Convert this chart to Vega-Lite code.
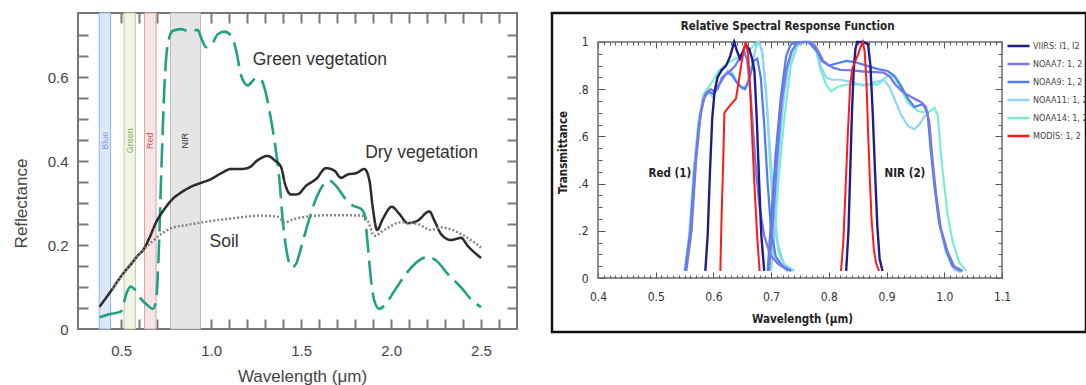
{
  "$schema": "https://vega.github.io/schema/vega-lite/v6.json",
  "background": "white",
  "padding": {"left": 11, "top": 11, "right": 0, "bottom": 0},
  "bounds": "flush",
  "spacing": 35,
  "config": {
    "axis": {"grid": false, "domain": false, "ticks": false, "labelOverlap": false, "labelFlush": false, "zindex": 1},
    "legend": {"labelOverlap": false}
  },
  "datasets": {
    "bands": [
      {"band": "Blue", "from": 0.378, "to": 0.441, "center": 0.41},
      {"band": "Green", "from": 0.516, "to": 0.579, "center": 0.548},
      {"band": "Red", "from": 0.63, "to": 0.694, "center": 0.662},
      {"band": "NIR", "from": 0.774, "to": 0.941, "center": 0.857}
    ],
    "spectra": [
      {"curve": "Green vegetation", "wl": 0.38, "r": 0.028},
      {"curve": "Green vegetation", "wl": 0.444, "r": 0.036},
      {"curve": "Green vegetation", "wl": 0.5, "r": 0.042},
      {"curve": "Green vegetation", "wl": 0.528, "r": 0.083},
      {"curve": "Green vegetation", "wl": 0.552, "r": 0.101},
      {"curve": "Green vegetation", "wl": 0.574, "r": 0.095},
      {"curve": "Green vegetation", "wl": 0.611, "r": 0.071},
      {"curve": "Green vegetation", "wl": 0.648, "r": 0.056},
      {"curve": "Green vegetation", "wl": 0.676, "r": 0.048},
      {"curve": "Green vegetation", "wl": 0.694, "r": 0.067},
      {"curve": "Green vegetation", "wl": 0.707, "r": 0.163},
      {"curve": "Green vegetation", "wl": 0.722, "r": 0.36},
      {"curve": "Green vegetation", "wl": 0.741, "r": 0.583},
      {"curve": "Green vegetation", "wl": 0.759, "r": 0.679},
      {"curve": "Green vegetation", "wl": 0.787, "r": 0.71},
      {"curve": "Green vegetation", "wl": 0.833, "r": 0.714},
      {"curve": "Green vegetation", "wl": 0.87, "r": 0.71},
      {"curve": "Green vegetation", "wl": 0.926, "r": 0.712},
      {"curve": "Green vegetation", "wl": 0.944, "r": 0.694},
      {"curve": "Green vegetation", "wl": 0.972, "r": 0.671},
      {"curve": "Green vegetation", "wl": 1.0, "r": 0.675},
      {"curve": "Green vegetation", "wl": 1.037, "r": 0.702},
      {"curve": "Green vegetation", "wl": 1.074, "r": 0.708},
      {"curve": "Green vegetation", "wl": 1.111, "r": 0.698},
      {"curve": "Green vegetation", "wl": 1.139, "r": 0.663},
      {"curve": "Green vegetation", "wl": 1.167, "r": 0.603},
      {"curve": "Green vegetation", "wl": 1.204, "r": 0.58},
      {"curve": "Green vegetation", "wl": 1.241, "r": 0.595},
      {"curve": "Green vegetation", "wl": 1.269, "r": 0.598},
      {"curve": "Green vegetation", "wl": 1.296, "r": 0.575},
      {"curve": "Green vegetation", "wl": 1.324, "r": 0.52},
      {"curve": "Green vegetation", "wl": 1.352, "r": 0.448},
      {"curve": "Green vegetation", "wl": 1.38, "r": 0.353},
      {"curve": "Green vegetation", "wl": 1.398, "r": 0.258},
      {"curve": "Green vegetation", "wl": 1.422, "r": 0.179},
      {"curve": "Green vegetation", "wl": 1.448, "r": 0.147},
      {"curve": "Green vegetation", "wl": 1.472, "r": 0.155},
      {"curve": "Green vegetation", "wl": 1.5, "r": 0.194},
      {"curve": "Green vegetation", "wl": 1.537, "r": 0.25},
      {"curve": "Green vegetation", "wl": 1.583, "r": 0.31},
      {"curve": "Green vegetation", "wl": 1.62, "r": 0.341},
      {"curve": "Green vegetation", "wl": 1.657, "r": 0.353},
      {"curve": "Green vegetation", "wl": 1.694, "r": 0.341},
      {"curve": "Green vegetation", "wl": 1.741, "r": 0.313},
      {"curve": "Green vegetation", "wl": 1.787, "r": 0.294},
      {"curve": "Green vegetation", "wl": 1.833, "r": 0.286},
      {"curve": "Green vegetation", "wl": 1.852, "r": 0.274},
      {"curve": "Green vegetation", "wl": 1.87, "r": 0.202},
      {"curve": "Green vegetation", "wl": 1.889, "r": 0.115},
      {"curve": "Green vegetation", "wl": 1.907, "r": 0.067},
      {"curve": "Green vegetation", "wl": 1.935, "r": 0.048},
      {"curve": "Green vegetation", "wl": 1.963, "r": 0.056},
      {"curve": "Green vegetation", "wl": 2.019, "r": 0.091},
      {"curve": "Green vegetation", "wl": 2.083, "r": 0.131},
      {"curve": "Green vegetation", "wl": 2.148, "r": 0.161},
      {"curve": "Green vegetation", "wl": 2.204, "r": 0.172},
      {"curve": "Green vegetation", "wl": 2.25, "r": 0.163},
      {"curve": "Green vegetation", "wl": 2.315, "r": 0.131},
      {"curve": "Green vegetation", "wl": 2.389, "r": 0.099},
      {"curve": "Green vegetation", "wl": 2.444, "r": 0.071},
      {"curve": "Green vegetation", "wl": 2.5, "r": 0.052},
      {"curve": "Dry vegetation", "wl": 0.38, "r": 0.053},
      {"curve": "Dry vegetation", "wl": 0.444, "r": 0.091},
      {"curve": "Dry vegetation", "wl": 0.509, "r": 0.131},
      {"curve": "Dry vegetation", "wl": 0.556, "r": 0.155},
      {"curve": "Dry vegetation", "wl": 0.593, "r": 0.175},
      {"curve": "Dry vegetation", "wl": 0.62, "r": 0.187},
      {"curve": "Dry vegetation", "wl": 0.657, "r": 0.217},
      {"curve": "Dry vegetation", "wl": 0.694, "r": 0.254},
      {"curve": "Dry vegetation", "wl": 0.741, "r": 0.286},
      {"curve": "Dry vegetation", "wl": 0.787, "r": 0.31},
      {"curve": "Dry vegetation", "wl": 0.833, "r": 0.325},
      {"curve": "Dry vegetation", "wl": 0.889, "r": 0.339},
      {"curve": "Dry vegetation", "wl": 0.944, "r": 0.348},
      {"curve": "Dry vegetation", "wl": 1.0, "r": 0.357},
      {"curve": "Dry vegetation", "wl": 1.056, "r": 0.371},
      {"curve": "Dry vegetation", "wl": 1.111, "r": 0.381},
      {"curve": "Dry vegetation", "wl": 1.167, "r": 0.381},
      {"curve": "Dry vegetation", "wl": 1.213, "r": 0.385},
      {"curve": "Dry vegetation", "wl": 1.259, "r": 0.402},
      {"curve": "Dry vegetation", "wl": 1.315, "r": 0.412},
      {"curve": "Dry vegetation", "wl": 1.352, "r": 0.402},
      {"curve": "Dry vegetation", "wl": 1.389, "r": 0.385},
      {"curve": "Dry vegetation", "wl": 1.411, "r": 0.345},
      {"curve": "Dry vegetation", "wl": 1.444, "r": 0.32},
      {"curve": "Dry vegetation", "wl": 1.481, "r": 0.321},
      {"curve": "Dry vegetation", "wl": 1.528, "r": 0.341},
      {"curve": "Dry vegetation", "wl": 1.583, "r": 0.357},
      {"curve": "Dry vegetation", "wl": 1.639, "r": 0.383},
      {"curve": "Dry vegetation", "wl": 1.685, "r": 0.377},
      {"curve": "Dry vegetation", "wl": 1.722, "r": 0.36},
      {"curve": "Dry vegetation", "wl": 1.759, "r": 0.368},
      {"curve": "Dry vegetation", "wl": 1.806, "r": 0.371},
      {"curve": "Dry vegetation", "wl": 1.852, "r": 0.381},
      {"curve": "Dry vegetation", "wl": 1.88, "r": 0.353},
      {"curve": "Dry vegetation", "wl": 1.898, "r": 0.29},
      {"curve": "Dry vegetation", "wl": 1.922, "r": 0.236},
      {"curve": "Dry vegetation", "wl": 1.954, "r": 0.262},
      {"curve": "Dry vegetation", "wl": 2.004, "r": 0.291},
      {"curve": "Dry vegetation", "wl": 2.046, "r": 0.274},
      {"curve": "Dry vegetation", "wl": 2.093, "r": 0.252},
      {"curve": "Dry vegetation", "wl": 2.148, "r": 0.258},
      {"curve": "Dry vegetation", "wl": 2.213, "r": 0.28},
      {"curve": "Dry vegetation", "wl": 2.241, "r": 0.258},
      {"curve": "Dry vegetation", "wl": 2.278, "r": 0.226},
      {"curve": "Dry vegetation", "wl": 2.333, "r": 0.212},
      {"curve": "Dry vegetation", "wl": 2.389, "r": 0.217},
      {"curve": "Dry vegetation", "wl": 2.426, "r": 0.198},
      {"curve": "Dry vegetation", "wl": 2.5, "r": 0.169},
      {"curve": "Soil", "wl": 0.454, "r": 0.095},
      {"curve": "Soil", "wl": 0.537, "r": 0.147},
      {"curve": "Soil", "wl": 0.611, "r": 0.183},
      {"curve": "Soil", "wl": 0.667, "r": 0.206},
      {"curve": "Soil", "wl": 0.722, "r": 0.226},
      {"curve": "Soil", "wl": 0.778, "r": 0.24},
      {"curve": "Soil", "wl": 0.87, "r": 0.248},
      {"curve": "Soil", "wl": 0.981, "r": 0.256},
      {"curve": "Soil", "wl": 1.13, "r": 0.264},
      {"curve": "Soil", "wl": 1.278, "r": 0.27},
      {"curve": "Soil", "wl": 1.37, "r": 0.267},
      {"curve": "Soil", "wl": 1.407, "r": 0.254},
      {"curve": "Soil", "wl": 1.463, "r": 0.262},
      {"curve": "Soil", "wl": 1.593, "r": 0.27},
      {"curve": "Soil", "wl": 1.685, "r": 0.271},
      {"curve": "Soil", "wl": 1.833, "r": 0.27},
      {"curve": "Soil", "wl": 1.87, "r": 0.258},
      {"curve": "Soil", "wl": 1.907, "r": 0.222},
      {"curve": "Soil", "wl": 1.963, "r": 0.236},
      {"curve": "Soil", "wl": 2.056, "r": 0.254},
      {"curve": "Soil", "wl": 2.148, "r": 0.25},
      {"curve": "Soil", "wl": 2.222, "r": 0.236},
      {"curve": "Soil", "wl": 2.278, "r": 0.242},
      {"curve": "Soil", "wl": 2.389, "r": 0.226},
      {"curve": "Soil", "wl": 2.5, "r": 0.194}
    ],
    "notes": [
      {"label": "Green vegetation", "wl": 1.231, "r": 0.641},
      {"label": "Dry vegetation", "wl": 1.856, "r": 0.418},
      {"label": "Soil", "wl": 0.991, "r": 0.206}
    ],
    "rsr": [
      {"sensor": "NOAA14", "band": 1, "wl": 0.551, "t": 0.03},
      {"sensor": "NOAA14", "band": 1, "wl": 0.559, "t": 0.2},
      {"sensor": "NOAA14", "band": 1, "wl": 0.567, "t": 0.48},
      {"sensor": "NOAA14", "band": 1, "wl": 0.575, "t": 0.68},
      {"sensor": "NOAA14", "band": 1, "wl": 0.583, "t": 0.78},
      {"sensor": "NOAA14", "band": 1, "wl": 0.592, "t": 0.81},
      {"sensor": "NOAA14", "band": 1, "wl": 0.6, "t": 0.84},
      {"sensor": "NOAA14", "band": 1, "wl": 0.61, "t": 0.88},
      {"sensor": "NOAA14", "band": 1, "wl": 0.62, "t": 0.9},
      {"sensor": "NOAA14", "band": 1, "wl": 0.63, "t": 0.92},
      {"sensor": "NOAA14", "band": 1, "wl": 0.64, "t": 0.93},
      {"sensor": "NOAA14", "band": 1, "wl": 0.65, "t": 0.95},
      {"sensor": "NOAA14", "band": 1, "wl": 0.66, "t": 0.96},
      {"sensor": "NOAA14", "band": 1, "wl": 0.668, "t": 0.98},
      {"sensor": "NOAA14", "band": 1, "wl": 0.677, "t": 1.0},
      {"sensor": "NOAA14", "band": 1, "wl": 0.684, "t": 0.97},
      {"sensor": "NOAA14", "band": 1, "wl": 0.691, "t": 0.8},
      {"sensor": "NOAA14", "band": 1, "wl": 0.698, "t": 0.55},
      {"sensor": "NOAA14", "band": 1, "wl": 0.705, "t": 0.3},
      {"sensor": "NOAA14", "band": 1, "wl": 0.712, "t": 0.14},
      {"sensor": "NOAA14", "band": 1, "wl": 0.722, "t": 0.06},
      {"sensor": "NOAA14", "band": 1, "wl": 0.74, "t": 0.03},
      {"sensor": "NOAA14", "band": 2, "wl": 0.7, "t": 0.03},
      {"sensor": "NOAA14", "band": 2, "wl": 0.706, "t": 0.18},
      {"sensor": "NOAA14", "band": 2, "wl": 0.713, "t": 0.42},
      {"sensor": "NOAA14", "band": 2, "wl": 0.723, "t": 0.68},
      {"sensor": "NOAA14", "band": 2, "wl": 0.734, "t": 0.9},
      {"sensor": "NOAA14", "band": 2, "wl": 0.745, "t": 0.98},
      {"sensor": "NOAA14", "band": 2, "wl": 0.758, "t": 1.0},
      {"sensor": "NOAA14", "band": 2, "wl": 0.77, "t": 0.99},
      {"sensor": "NOAA14", "band": 2, "wl": 0.778, "t": 0.96},
      {"sensor": "NOAA14", "band": 2, "wl": 0.786, "t": 0.88},
      {"sensor": "NOAA14", "band": 2, "wl": 0.795, "t": 0.82},
      {"sensor": "NOAA14", "band": 2, "wl": 0.804, "t": 0.79},
      {"sensor": "NOAA14", "band": 2, "wl": 0.815, "t": 0.81},
      {"sensor": "NOAA14", "band": 2, "wl": 0.83, "t": 0.82},
      {"sensor": "NOAA14", "band": 2, "wl": 0.85, "t": 0.82},
      {"sensor": "NOAA14", "band": 2, "wl": 0.87, "t": 0.82},
      {"sensor": "NOAA14", "band": 2, "wl": 0.885, "t": 0.82},
      {"sensor": "NOAA14", "band": 2, "wl": 0.902, "t": 0.856},
      {"sensor": "NOAA14", "band": 2, "wl": 0.914, "t": 0.849},
      {"sensor": "NOAA14", "band": 2, "wl": 0.925, "t": 0.8},
      {"sensor": "NOAA14", "band": 2, "wl": 0.937, "t": 0.743},
      {"sensor": "NOAA14", "band": 2, "wl": 0.954, "t": 0.708},
      {"sensor": "NOAA14", "band": 2, "wl": 0.971, "t": 0.7},
      {"sensor": "NOAA14", "band": 2, "wl": 0.983, "t": 0.722},
      {"sensor": "NOAA14", "band": 2, "wl": 0.989, "t": 0.686},
      {"sensor": "NOAA14", "band": 2, "wl": 0.994, "t": 0.531},
      {"sensor": "NOAA14", "band": 2, "wl": 1.0, "t": 0.39},
      {"sensor": "NOAA14", "band": 2, "wl": 1.006, "t": 0.263},
      {"sensor": "NOAA14", "band": 2, "wl": 1.015, "t": 0.15},
      {"sensor": "NOAA14", "band": 2, "wl": 1.026, "t": 0.065},
      {"sensor": "NOAA14", "band": 2, "wl": 1.038, "t": 0.03},
      {"sensor": "NOAA11", "band": 1, "wl": 0.55, "t": 0.03},
      {"sensor": "NOAA11", "band": 1, "wl": 0.558, "t": 0.18},
      {"sensor": "NOAA11", "band": 1, "wl": 0.566, "t": 0.45},
      {"sensor": "NOAA11", "band": 1, "wl": 0.574, "t": 0.66},
      {"sensor": "NOAA11", "band": 1, "wl": 0.582, "t": 0.76},
      {"sensor": "NOAA11", "band": 1, "wl": 0.59, "t": 0.79},
      {"sensor": "NOAA11", "band": 1, "wl": 0.598, "t": 0.77},
      {"sensor": "NOAA11", "band": 1, "wl": 0.606, "t": 0.8},
      {"sensor": "NOAA11", "band": 1, "wl": 0.615, "t": 0.84},
      {"sensor": "NOAA11", "band": 1, "wl": 0.625, "t": 0.88},
      {"sensor": "NOAA11", "band": 1, "wl": 0.633, "t": 0.87},
      {"sensor": "NOAA11", "band": 1, "wl": 0.641, "t": 0.83},
      {"sensor": "NOAA11", "band": 1, "wl": 0.65, "t": 0.8},
      {"sensor": "NOAA11", "band": 1, "wl": 0.658, "t": 0.82},
      {"sensor": "NOAA11", "band": 1, "wl": 0.666, "t": 0.9},
      {"sensor": "NOAA11", "band": 1, "wl": 0.674, "t": 0.98},
      {"sensor": "NOAA11", "band": 1, "wl": 0.679, "t": 1.0},
      {"sensor": "NOAA11", "band": 1, "wl": 0.685, "t": 0.95},
      {"sensor": "NOAA11", "band": 1, "wl": 0.692, "t": 0.75},
      {"sensor": "NOAA11", "band": 1, "wl": 0.699, "t": 0.45},
      {"sensor": "NOAA11", "band": 1, "wl": 0.706, "t": 0.22},
      {"sensor": "NOAA11", "band": 1, "wl": 0.714, "t": 0.1},
      {"sensor": "NOAA11", "band": 1, "wl": 0.725, "t": 0.05},
      {"sensor": "NOAA11", "band": 1, "wl": 0.74, "t": 0.03},
      {"sensor": "NOAA11", "band": 2, "wl": 0.697, "t": 0.03},
      {"sensor": "NOAA11", "band": 2, "wl": 0.703, "t": 0.18},
      {"sensor": "NOAA11", "band": 2, "wl": 0.711, "t": 0.45},
      {"sensor": "NOAA11", "band": 2, "wl": 0.72, "t": 0.72},
      {"sensor": "NOAA11", "band": 2, "wl": 0.73, "t": 0.9},
      {"sensor": "NOAA11", "band": 2, "wl": 0.74, "t": 0.97},
      {"sensor": "NOAA11", "band": 2, "wl": 0.75, "t": 1.0},
      {"sensor": "NOAA11", "band": 2, "wl": 0.77, "t": 1.0},
      {"sensor": "NOAA11", "band": 2, "wl": 0.778, "t": 0.97},
      {"sensor": "NOAA11", "band": 2, "wl": 0.786, "t": 0.9},
      {"sensor": "NOAA11", "band": 2, "wl": 0.795, "t": 0.85},
      {"sensor": "NOAA11", "band": 2, "wl": 0.805, "t": 0.84},
      {"sensor": "NOAA11", "band": 2, "wl": 0.82, "t": 0.84},
      {"sensor": "NOAA11", "band": 2, "wl": 0.84, "t": 0.83},
      {"sensor": "NOAA11", "band": 2, "wl": 0.86, "t": 0.815},
      {"sensor": "NOAA11", "band": 2, "wl": 0.88, "t": 0.83},
      {"sensor": "NOAA11", "band": 2, "wl": 0.895, "t": 0.84},
      {"sensor": "NOAA11", "band": 2, "wl": 0.905, "t": 0.81},
      {"sensor": "NOAA11", "band": 2, "wl": 0.914, "t": 0.757},
      {"sensor": "NOAA11", "band": 2, "wl": 0.925, "t": 0.693},
      {"sensor": "NOAA11", "band": 2, "wl": 0.937, "t": 0.644},
      {"sensor": "NOAA11", "band": 2, "wl": 0.948, "t": 0.63},
      {"sensor": "NOAA11", "band": 2, "wl": 0.957, "t": 0.651},
      {"sensor": "NOAA11", "band": 2, "wl": 0.966, "t": 0.686},
      {"sensor": "NOAA11", "band": 2, "wl": 0.971, "t": 0.693},
      {"sensor": "NOAA11", "band": 2, "wl": 0.977, "t": 0.56},
      {"sensor": "NOAA11", "band": 2, "wl": 0.983, "t": 0.404},
      {"sensor": "NOAA11", "band": 2, "wl": 0.991, "t": 0.234},
      {"sensor": "NOAA11", "band": 2, "wl": 1.003, "t": 0.107},
      {"sensor": "NOAA11", "band": 2, "wl": 1.017, "t": 0.037},
      {"sensor": "NOAA11", "band": 2, "wl": 1.029, "t": 0.023},
      {"sensor": "NOAA9", "band": 1, "wl": 0.551, "t": 0.03},
      {"sensor": "NOAA9", "band": 1, "wl": 0.56, "t": 0.2},
      {"sensor": "NOAA9", "band": 1, "wl": 0.567, "t": 0.45},
      {"sensor": "NOAA9", "band": 1, "wl": 0.575, "t": 0.65},
      {"sensor": "NOAA9", "band": 1, "wl": 0.583, "t": 0.76},
      {"sensor": "NOAA9", "band": 1, "wl": 0.592, "t": 0.79},
      {"sensor": "NOAA9", "band": 1, "wl": 0.6, "t": 0.78},
      {"sensor": "NOAA9", "band": 1, "wl": 0.607, "t": 0.8},
      {"sensor": "NOAA9", "band": 1, "wl": 0.615, "t": 0.85},
      {"sensor": "NOAA9", "band": 1, "wl": 0.625, "t": 0.87},
      {"sensor": "NOAA9", "band": 1, "wl": 0.632, "t": 0.86},
      {"sensor": "NOAA9", "band": 1, "wl": 0.64, "t": 0.83},
      {"sensor": "NOAA9", "band": 1, "wl": 0.648, "t": 0.81},
      {"sensor": "NOAA9", "band": 1, "wl": 0.655, "t": 0.8},
      {"sensor": "NOAA9", "band": 1, "wl": 0.662, "t": 0.84},
      {"sensor": "NOAA9", "band": 1, "wl": 0.67, "t": 0.92},
      {"sensor": "NOAA9", "band": 1, "wl": 0.676, "t": 0.93},
      {"sensor": "NOAA9", "band": 1, "wl": 0.682, "t": 0.85},
      {"sensor": "NOAA9", "band": 1, "wl": 0.688, "t": 0.65},
      {"sensor": "NOAA9", "band": 1, "wl": 0.694, "t": 0.4},
      {"sensor": "NOAA9", "band": 1, "wl": 0.7, "t": 0.2},
      {"sensor": "NOAA9", "band": 1, "wl": 0.708, "t": 0.09},
      {"sensor": "NOAA9", "band": 1, "wl": 0.72, "t": 0.05},
      {"sensor": "NOAA9", "band": 1, "wl": 0.735, "t": 0.03},
      {"sensor": "NOAA9", "band": 2, "wl": 0.694, "t": 0.03},
      {"sensor": "NOAA9", "band": 2, "wl": 0.7, "t": 0.25},
      {"sensor": "NOAA9", "band": 2, "wl": 0.708, "t": 0.53},
      {"sensor": "NOAA9", "band": 2, "wl": 0.717, "t": 0.77},
      {"sensor": "NOAA9", "band": 2, "wl": 0.726, "t": 0.94},
      {"sensor": "NOAA9", "band": 2, "wl": 0.734, "t": 0.99},
      {"sensor": "NOAA9", "band": 2, "wl": 0.745, "t": 1.0},
      {"sensor": "NOAA9", "band": 2, "wl": 0.765, "t": 1.0},
      {"sensor": "NOAA9", "band": 2, "wl": 0.772, "t": 0.98},
      {"sensor": "NOAA9", "band": 2, "wl": 0.78, "t": 0.96},
      {"sensor": "NOAA9", "band": 2, "wl": 0.788, "t": 0.92},
      {"sensor": "NOAA9", "band": 2, "wl": 0.8, "t": 0.9},
      {"sensor": "NOAA9", "band": 2, "wl": 0.815, "t": 0.91},
      {"sensor": "NOAA9", "band": 2, "wl": 0.83, "t": 0.92},
      {"sensor": "NOAA9", "band": 2, "wl": 0.845, "t": 0.915},
      {"sensor": "NOAA9", "band": 2, "wl": 0.865, "t": 0.9},
      {"sensor": "NOAA9", "band": 2, "wl": 0.885, "t": 0.885},
      {"sensor": "NOAA9", "band": 2, "wl": 0.902, "t": 0.877},
      {"sensor": "NOAA9", "band": 2, "wl": 0.914, "t": 0.856},
      {"sensor": "NOAA9", "band": 2, "wl": 0.925, "t": 0.814},
      {"sensor": "NOAA9", "band": 2, "wl": 0.937, "t": 0.76},
      {"sensor": "NOAA9", "band": 2, "wl": 0.948, "t": 0.725},
      {"sensor": "NOAA9", "band": 2, "wl": 0.963, "t": 0.736},
      {"sensor": "NOAA9", "band": 2, "wl": 0.971, "t": 0.7},
      {"sensor": "NOAA9", "band": 2, "wl": 0.977, "t": 0.53},
      {"sensor": "NOAA9", "band": 2, "wl": 0.983, "t": 0.39},
      {"sensor": "NOAA9", "band": 2, "wl": 0.991, "t": 0.234},
      {"sensor": "NOAA9", "band": 2, "wl": 1.003, "t": 0.121},
      {"sensor": "NOAA9", "band": 2, "wl": 1.014, "t": 0.051},
      {"sensor": "NOAA9", "band": 2, "wl": 1.029, "t": 0.03},
      {"sensor": "NOAA7", "band": 1, "wl": 0.553, "t": 0.03},
      {"sensor": "NOAA7", "band": 1, "wl": 0.562, "t": 0.2},
      {"sensor": "NOAA7", "band": 1, "wl": 0.57, "t": 0.5},
      {"sensor": "NOAA7", "band": 1, "wl": 0.578, "t": 0.7},
      {"sensor": "NOAA7", "band": 1, "wl": 0.586, "t": 0.78},
      {"sensor": "NOAA7", "band": 1, "wl": 0.595, "t": 0.8},
      {"sensor": "NOAA7", "band": 1, "wl": 0.602, "t": 0.79},
      {"sensor": "NOAA7", "band": 1, "wl": 0.61, "t": 0.82},
      {"sensor": "NOAA7", "band": 1, "wl": 0.62, "t": 0.86},
      {"sensor": "NOAA7", "band": 1, "wl": 0.63, "t": 0.88},
      {"sensor": "NOAA7", "band": 1, "wl": 0.638, "t": 0.9},
      {"sensor": "NOAA7", "band": 1, "wl": 0.645, "t": 0.93},
      {"sensor": "NOAA7", "band": 1, "wl": 0.652, "t": 0.96},
      {"sensor": "NOAA7", "band": 1, "wl": 0.658, "t": 0.93},
      {"sensor": "NOAA7", "band": 1, "wl": 0.663, "t": 0.82},
      {"sensor": "NOAA7", "band": 1, "wl": 0.668, "t": 0.65},
      {"sensor": "NOAA7", "band": 1, "wl": 0.674, "t": 0.45},
      {"sensor": "NOAA7", "band": 1, "wl": 0.68, "t": 0.3},
      {"sensor": "NOAA7", "band": 1, "wl": 0.688, "t": 0.18},
      {"sensor": "NOAA7", "band": 1, "wl": 0.698, "t": 0.1},
      {"sensor": "NOAA7", "band": 1, "wl": 0.712, "t": 0.06},
      {"sensor": "NOAA7", "band": 1, "wl": 0.73, "t": 0.03},
      {"sensor": "NOAA7", "band": 2, "wl": 0.696, "t": 0.03},
      {"sensor": "NOAA7", "band": 2, "wl": 0.702, "t": 0.2},
      {"sensor": "NOAA7", "band": 2, "wl": 0.71, "t": 0.5},
      {"sensor": "NOAA7", "band": 2, "wl": 0.718, "t": 0.74},
      {"sensor": "NOAA7", "band": 2, "wl": 0.726, "t": 0.88},
      {"sensor": "NOAA7", "band": 2, "wl": 0.735, "t": 0.96},
      {"sensor": "NOAA7", "band": 2, "wl": 0.745, "t": 0.995},
      {"sensor": "NOAA7", "band": 2, "wl": 0.755, "t": 1.0},
      {"sensor": "NOAA7", "band": 2, "wl": 0.768, "t": 1.0},
      {"sensor": "NOAA7", "band": 2, "wl": 0.776, "t": 0.985},
      {"sensor": "NOAA7", "band": 2, "wl": 0.784, "t": 0.95},
      {"sensor": "NOAA7", "band": 2, "wl": 0.79, "t": 0.92},
      {"sensor": "NOAA7", "band": 2, "wl": 0.798, "t": 0.905},
      {"sensor": "NOAA7", "band": 2, "wl": 0.808, "t": 0.89},
      {"sensor": "NOAA7", "band": 2, "wl": 0.82, "t": 0.882},
      {"sensor": "NOAA7", "band": 2, "wl": 0.84, "t": 0.88},
      {"sensor": "NOAA7", "band": 2, "wl": 0.86, "t": 0.875},
      {"sensor": "NOAA7", "band": 2, "wl": 0.88, "t": 0.872},
      {"sensor": "NOAA7", "band": 2, "wl": 0.895, "t": 0.87},
      {"sensor": "NOAA7", "band": 2, "wl": 0.905, "t": 0.855},
      {"sensor": "NOAA7", "band": 2, "wl": 0.915, "t": 0.82},
      {"sensor": "NOAA7", "band": 2, "wl": 0.925, "t": 0.795},
      {"sensor": "NOAA7", "band": 2, "wl": 0.937, "t": 0.775},
      {"sensor": "NOAA7", "band": 2, "wl": 0.948, "t": 0.76},
      {"sensor": "NOAA7", "band": 2, "wl": 0.96, "t": 0.745},
      {"sensor": "NOAA7", "band": 2, "wl": 0.968, "t": 0.725},
      {"sensor": "NOAA7", "band": 2, "wl": 0.974, "t": 0.66},
      {"sensor": "NOAA7", "band": 2, "wl": 0.98, "t": 0.49},
      {"sensor": "NOAA7", "band": 2, "wl": 0.986, "t": 0.35},
      {"sensor": "NOAA7", "band": 2, "wl": 0.994, "t": 0.21},
      {"sensor": "NOAA7", "band": 2, "wl": 1.006, "t": 0.11},
      {"sensor": "NOAA7", "band": 2, "wl": 1.017, "t": 0.05},
      {"sensor": "NOAA7", "band": 2, "wl": 1.032, "t": 0.03},
      {"sensor": "VIIRS", "band": 1, "wl": 0.586, "t": 0.03},
      {"sensor": "VIIRS", "band": 1, "wl": 0.59, "t": 0.18},
      {"sensor": "VIIRS", "band": 1, "wl": 0.594, "t": 0.45},
      {"sensor": "VIIRS", "band": 1, "wl": 0.598, "t": 0.68},
      {"sensor": "VIIRS", "band": 1, "wl": 0.602, "t": 0.79},
      {"sensor": "VIIRS", "band": 1, "wl": 0.607, "t": 0.85},
      {"sensor": "VIIRS", "band": 1, "wl": 0.614, "t": 0.88},
      {"sensor": "VIIRS", "band": 1, "wl": 0.622, "t": 0.9},
      {"sensor": "VIIRS", "band": 1, "wl": 0.629, "t": 0.94},
      {"sensor": "VIIRS", "band": 1, "wl": 0.636, "t": 1.0},
      {"sensor": "VIIRS", "band": 1, "wl": 0.641, "t": 0.96},
      {"sensor": "VIIRS", "band": 1, "wl": 0.646, "t": 0.93},
      {"sensor": "VIIRS", "band": 1, "wl": 0.651, "t": 0.96},
      {"sensor": "VIIRS", "band": 1, "wl": 0.656, "t": 0.99},
      {"sensor": "VIIRS", "band": 1, "wl": 0.662, "t": 0.97},
      {"sensor": "VIIRS", "band": 1, "wl": 0.667, "t": 0.93},
      {"sensor": "VIIRS", "band": 1, "wl": 0.671, "t": 0.88},
      {"sensor": "VIIRS", "band": 1, "wl": 0.675, "t": 0.68},
      {"sensor": "VIIRS", "band": 1, "wl": 0.679, "t": 0.42},
      {"sensor": "VIIRS", "band": 1, "wl": 0.683, "t": 0.18},
      {"sensor": "VIIRS", "band": 1, "wl": 0.688, "t": 0.03},
      {"sensor": "VIIRS", "band": 2, "wl": 0.83, "t": 0.03},
      {"sensor": "VIIRS", "band": 2, "wl": 0.834, "t": 0.2},
      {"sensor": "VIIRS", "band": 2, "wl": 0.837, "t": 0.45},
      {"sensor": "VIIRS", "band": 2, "wl": 0.84, "t": 0.7},
      {"sensor": "VIIRS", "band": 2, "wl": 0.843, "t": 0.88},
      {"sensor": "VIIRS", "band": 2, "wl": 0.846, "t": 0.97},
      {"sensor": "VIIRS", "band": 2, "wl": 0.849, "t": 1.0},
      {"sensor": "VIIRS", "band": 2, "wl": 0.86, "t": 1.0},
      {"sensor": "VIIRS", "band": 2, "wl": 0.868, "t": 0.99},
      {"sensor": "VIIRS", "band": 2, "wl": 0.872, "t": 0.9},
      {"sensor": "VIIRS", "band": 2, "wl": 0.876, "t": 0.7},
      {"sensor": "VIIRS", "band": 2, "wl": 0.88, "t": 0.45},
      {"sensor": "VIIRS", "band": 2, "wl": 0.884, "t": 0.22},
      {"sensor": "VIIRS", "band": 2, "wl": 0.888, "t": 0.08},
      {"sensor": "VIIRS", "band": 2, "wl": 0.893, "t": 0.03},
      {"sensor": "MODIS", "band": 1, "wl": 0.612, "t": 0.03},
      {"sensor": "MODIS", "band": 1, "wl": 0.614, "t": 0.25},
      {"sensor": "MODIS", "band": 1, "wl": 0.617, "t": 0.5},
      {"sensor": "MODIS", "band": 1, "wl": 0.619, "t": 0.7},
      {"sensor": "MODIS", "band": 1, "wl": 0.625, "t": 0.72},
      {"sensor": "MODIS", "band": 1, "wl": 0.632, "t": 0.74},
      {"sensor": "MODIS", "band": 1, "wl": 0.639, "t": 0.76},
      {"sensor": "MODIS", "band": 1, "wl": 0.643, "t": 0.82},
      {"sensor": "MODIS", "band": 1, "wl": 0.648, "t": 0.9},
      {"sensor": "MODIS", "band": 1, "wl": 0.652, "t": 0.96},
      {"sensor": "MODIS", "band": 1, "wl": 0.656, "t": 1.0},
      {"sensor": "MODIS", "band": 1, "wl": 0.66, "t": 0.95},
      {"sensor": "MODIS", "band": 1, "wl": 0.664, "t": 0.78},
      {"sensor": "MODIS", "band": 1, "wl": 0.668, "t": 0.55},
      {"sensor": "MODIS", "band": 1, "wl": 0.672, "t": 0.35},
      {"sensor": "MODIS", "band": 1, "wl": 0.676, "t": 0.17},
      {"sensor": "MODIS", "band": 1, "wl": 0.68, "t": 0.03},
      {"sensor": "MODIS", "band": 2, "wl": 0.821, "t": 0.03},
      {"sensor": "MODIS", "band": 2, "wl": 0.825, "t": 0.15},
      {"sensor": "MODIS", "band": 2, "wl": 0.829, "t": 0.38},
      {"sensor": "MODIS", "band": 2, "wl": 0.833, "t": 0.62},
      {"sensor": "MODIS", "band": 2, "wl": 0.837, "t": 0.82},
      {"sensor": "MODIS", "band": 2, "wl": 0.841, "t": 0.89},
      {"sensor": "MODIS", "band": 2, "wl": 0.846, "t": 0.92},
      {"sensor": "MODIS", "band": 2, "wl": 0.851, "t": 0.95},
      {"sensor": "MODIS", "band": 2, "wl": 0.855, "t": 0.98},
      {"sensor": "MODIS", "band": 2, "wl": 0.859, "t": 1.0},
      {"sensor": "MODIS", "band": 2, "wl": 0.862, "t": 0.96},
      {"sensor": "MODIS", "band": 2, "wl": 0.865, "t": 0.84},
      {"sensor": "MODIS", "band": 2, "wl": 0.868, "t": 0.62},
      {"sensor": "MODIS", "band": 2, "wl": 0.871, "t": 0.42},
      {"sensor": "MODIS", "band": 2, "wl": 0.874, "t": 0.25},
      {"sensor": "MODIS", "band": 2, "wl": 0.878, "t": 0.12},
      {"sensor": "MODIS", "band": 2, "wl": 0.882, "t": 0.06},
      {"sensor": "MODIS", "band": 2, "wl": 0.887, "t": 0.03}
    ],
    "rsrNotes": [
      {"label": "Red (1)", "wl": 0.4875, "t": 0.439},
      {"label": "NIR (2)", "wl": 0.8966, "t": 0.439}
    ]
  },
  "hconcat": [
    {
      "width": 439,
      "height": 316,
      "view": {"stroke": "#777777", "strokeWidth": 2},
      "resolve": {"axis": {"x": "independent", "y": "independent"}, "scale": {"color": "independent"}},
      "layer": [
        {
          "data": {"name": "bands"},
          "mark": {"type": "rect", "strokeWidth": 1},
          "encoding": {
            "x": {"field": "from", "type": "quantitative",
              "scale": {"domain": [0.26, 2.7], "nice": false, "zero": false}, "axis": null},
            "x2": {"field": "to"},
            "y": {"datum": 0, "type": "quantitative",
              "scale": {"domain": [0, 0.7524], "nice": false, "zero": false}, "axis": null},
            "y2": {"datum": 0.7524},
            "fill": {"field": "band", "type": "nominal",
              "scale": {"domain": ["Blue", "Green", "Red", "NIR"], "range": ["#dde8f8", "#eef4e6", "#f7e4e4", "#e5e5e5"]}, "legend": null},
            "stroke": {"field": "band", "type": "nominal",
              "scale": {"domain": ["Blue", "Green", "Red", "NIR"], "range": ["#93b5e8", "#b8cf98", "#d9a3a3", "#bcbcbc"]}, "legend": null}
          }
        },
        {
          "data": {"name": "bands"},
          "mark": {"type": "text", "angle": 270, "fontSize": 9, "font": "Liberation Sans", "align": "center", "baseline": "middle"},
          "encoding": {
            "x": {"field": "center", "type": "quantitative",
              "axis": {"orient": "bottom", "values": [0.4,0.5,0.6,0.7,0.8,0.9,1.0,1.1,1.2,1.3,1.4,1.5,1.6,1.7,1.8,1.9,2.0,2.1,2.2,2.3,2.4,2.5,2.6],
                "ticks": false, "labels": false, "title": null,
                "grid": true, "gridDash": [10, 296, 10, 3000], "gridDashOffset": -3316, "gridColor": "#7a7a7a", "gridWidth": 2, "gridOpacity": 1}},
            "y": {"datum": 0.448, "type": "quantitative",
              "axis": {"orient": "left", "values": [0.05,0.1,0.15,0.2,0.25,0.3,0.35,0.4,0.45,0.5,0.55,0.6,0.65,0.7],
                "ticks": false, "labels": false, "title": null,
                "grid": true, "gridDash": [10, 419, 10, 3000], "gridDashOffset": -3439, "gridColor": "#7a7a7a", "gridWidth": 2, "gridOpacity": 1}},
            "text": {"field": "band"},
            "color": {"field": "band", "type": "nominal",
              "scale": {"domain": ["Blue", "Green", "Red", "NIR"], "range": ["#6f9de3", "#8db35f", "#c4605d", "#333333"]}, "legend": null}
          }
        },
        {
          "data": {"name": "spectra"},
          "mark": {"type": "line", "interpolate": "monotone", "strokeCap": "butt"},
          "encoding": {
            "x": {"field": "wl", "type": "quantitative",
              "axis": {"orient": "bottom", "values": [0.5,1.0,1.5,2.0,2.5],
                "ticks": false, "grid": false,
                "labelExpr": "format(datum.value, '.1f')",
                "labelPadding": 14, "labelFont": "Liberation Sans", "labelFontSize": 15, "labelColor": "#444444",
                "title": "Wavelength (\u03bcm)", "titleFont": "Liberation Sans", "titleFontSize": 17, "titleFontWeight": "normal", "titleColor": "#444444",
                "titleX": 224, "titleY": 47.5, "titleBaseline": "middle", "titleAlign": "center"}},
            "y": {"field": "r", "type": "quantitative",
              "axis": {"orient": "left", "values": [0,0.2,0.4,0.6],
                "ticks": false, "grid": false,
                "labelExpr": "datum.value < 0.001 ? '0' : format(datum.value, '.1f')",
                "labelPadding": 10, "labelFont": "Liberation Sans", "labelFontSize": 15, "labelColor": "#444444", "labelBaseline": "middle",
                "title": "Reflectance", "titleFont": "Liberation Sans", "titleFontSize": 17, "titleFontWeight": "normal", "titleColor": "#444444",
                "titleX": -57, "titleY": 190, "titleAngle": 270, "titleBaseline": "middle", "titleAlign": "center"}},
            "color": {"field": "curve", "type": "nominal",
              "scale": {"domain": ["Green vegetation", "Dry vegetation", "Soil"], "range": ["#22a086", "#2b2b2b", "#858585"]}, "legend": null},
            "strokeDash": {"field": "curve", "type": "nominal",
              "scale": {"domain": ["Green vegetation", "Dry vegetation", "Soil"], "range": [[24, 8], [1, 0], [2, 2]]}, "legend": null},
            "strokeWidth": {"field": "curve", "type": "ordinal",
              "scale": {"domain": ["Green vegetation", "Dry vegetation", "Soil"], "range": [2.6, 2, 1.5]}, "legend": null}
          }
        },
        {
          "data": {"name": "notes"},
          "mark": {"type": "text", "align": "left", "baseline": "middle", "font": "Liberation Sans", "fontSize": 17.5, "color": "#333333"},
          "encoding": {
            "x": {"field": "wl", "type": "quantitative", "axis": null},
            "y": {"field": "r", "type": "quantitative", "axis": null},
            "text": {"field": "label"}
          }
        }
      ]
    },
    {
      "width": 534,
      "height": 319,
      "view": {"stroke": "#111111", "strokeWidth": 2.5},
      "resolve": {"axis": {"x": "independent", "y": "independent"}},
      "layer": [
        {
          "data": {"values": [{}]},
          "mark": {"type": "rect", "fill": "transparent", "stroke": "#6a6a6a", "strokeWidth": 1.5},
          "encoding": {
            "x": {"datum": 0.4, "type": "quantitative",
              "scale": {"domain": [0.3203, 1.24555], "nice": false, "zero": false},
              "axis": {"orient": "bottom", "offset": -54,
                "values": [0.4,0.5,0.6,0.7,0.8,0.9,1.0,1.1],
                "ticks": false, "grid": true, "gridDash": [6, 224, 6, 10000], "gridDashOffset": -29, "gridColor": "#555555", "gridWidth": 1, "gridOpacity": 1,
                "labelExpr": "format(datum.value, '.1f')",
                "labelPadding": 13, "labelFont": "DejaVu Sans Condensed, sans-serif", "labelFontSize": 12, "labelColor": "#333333",
                "title": "Wavelength (\u03bcm)", "titleFont": "DejaVu Sans Condensed, sans-serif", "titleFontSize": 11.5, "titleFontWeight": "bold", "titleColor": "#222222",
                "titleX": 250, "titleY": 41, "titleBaseline": "middle", "titleAlign": "center"}},
            "x2": {"datum": 1.1},
            "y": {"datum": 0, "type": "quantitative",
              "scale": {"domain": [-0.22881, 1.12288], "nice": false, "zero": false},
              "axis": {"orient": "left", "offset": -46,
                "values": [0,0.2,0.4,0.6,0.8,1.0],
                "ticks": false, "grid": true, "gridDash": [7, 390, 7, 10000], "gridDashOffset": -46, "gridColor": "#555555", "gridWidth": 1, "gridOpacity": 1,
                "labelExpr": "datum.value < 0.001 ? '0' : (datum.value > 0.999 ? '1' : replace(format(datum.value, '.1f'), '0.', '.'))",
                "labelPadding": 10, "labelFont": "DejaVu Sans Condensed, sans-serif", "labelFontSize": 12, "labelColor": "#333333", "labelBaseline": "middle",
                "title": "Transmittance", "titleFont": "DejaVu Sans Condensed, sans-serif", "titleFontSize": 11.5, "titleFontWeight": "bold", "titleColor": "#222222",
                "titleX": -35, "titleY": 139, "titleAngle": 270, "titleBaseline": "middle", "titleAlign": "center"}},
            "y2": {"datum": 1}
          }
        },
        {
          "data": {"name": "rsr"},
          "mark": {"type": "line"},
          "encoding": {
            "x": {"field": "wl", "type": "quantitative", "axis": null},
            "y": {"field": "t", "type": "quantitative", "axis": null},
            "color": {"field": "sensor", "type": "nominal",
              "scale": {"domain": ["VIIRS", "NOAA7", "NOAA9", "NOAA11", "NOAA14", "MODIS"],
                "range": ["#1c1c8a", "#7878e6", "#4d7ff2", "#90d4f7", "#73f0c9", "#ff1a1a"]},
              "legend": {"orient": "none", "legendX": 928, "legendY": 20.5, "title": null, "symbolType": "stroke",
                "symbolSize": 484, "symbolStrokeWidth": 2.5, "labelFont": "DejaVu Sans Condensed, sans-serif",
                "labelFontSize": 9, "labelColor": "#444444", "rowPadding": -4.5, "labelOffset": 2, "labelLimit": 57, "padding": 0,
                "labelExpr": "datum.label == 'VIIRS' ? 'VIIRS:  I1, I2' : datum.label + ': 1, 2'"}},
            "strokeWidth": {"field": "sensor", "type": "ordinal",
              "scale": {"domain": ["VIIRS", "NOAA7", "NOAA9", "NOAA11", "NOAA14", "MODIS"], "range": [2.6, 1.6, 1.4, 1.6, 1.2, 2.6]},
              "legend": null},
            "detail": {"field": "band", "type": "nominal"}
          }
        },
        {
          "data": {"name": "rsrNotes"},
          "mark": {"type": "text", "align": "left", "baseline": "middle", "font": "DejaVu Sans Condensed, sans-serif", "fontSize": 11.5, "fontWeight": "bold", "color": "#222222"},
          "encoding": {
            "x": {"field": "wl", "type": "quantitative",
              "axis": {"orient": "bottom",
                "values": [0.4,0.41,0.42,0.43,0.44,0.45,0.46,0.47,0.48,0.49,0.5,0.51,0.52,0.53,0.54,0.55,0.56,0.57,0.58,0.59,0.6,0.61,0.62,0.63,0.64,0.65,0.66,0.67,0.68,0.69,0.7,0.71,0.72,0.73,0.74,0.75,0.76,0.77,0.78,0.79,0.8,0.81,0.82,0.83,0.84,0.85,0.86,0.87,0.88,0.89,0.9,0.91,0.92,0.93,0.94,0.95,0.96,0.97,0.98,0.99,1.0,1.01,1.02,1.03,1.04,1.05,1.06,1.07,1.08,1.09,1.1],
                "ticks": false, "labels": false, "title": null,
                "grid": true, "gridDash": [3, 230, 3, 10000], "gridDashOffset": -29, "gridColor": "#555555", "gridWidth": 1, "gridOpacity": 1}},
            "y": {"field": "t", "type": "quantitative",
              "axis": {"orient": "left",
                "values": [0,0.05,0.1,0.15,0.2,0.25,0.3,0.35,0.4,0.45,0.5,0.55,0.6,0.65,0.7,0.75,0.8,0.85,0.9,0.95,1.0],
                "ticks": false, "labels": false, "title": null,
                "grid": true, "gridDash": [4, 396, 4, 10000], "gridDashOffset": -46, "gridColor": "#555555", "gridWidth": 1, "gridOpacity": 1}},
            "text": {"field": "label"}
          }
        },
        {
          "data": {"values": [{"title": "Relative Spectral Response Function"}]},
          "mark": {"type": "text", "align": "center", "baseline": "middle", "font": "DejaVu Sans Condensed, sans-serif", "fontSize": 11.5, "fontWeight": "bold", "color": "#222222"},
          "encoding": {
            "x": {"datum": 0.7287, "type": "quantitative", "axis": null},
            "y": {"datum": 1.0648, "type": "quantitative", "axis": null},
            "text": {"field": "title"}
          }
        }
      ]
    }
  ]
}
